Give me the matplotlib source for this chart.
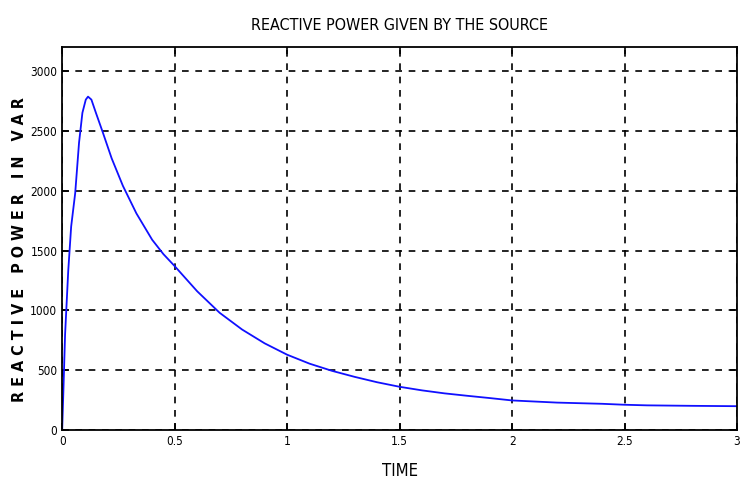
import numpy as np
import matplotlib.pyplot as plt

# values
t = [0, 0.005, 0.013, 0.027, 0.04, 0.058, 0.075, 0.09, 0.105, 0.115, 0.13, 0.15,
     0.18, 0.22, 0.27, 0.33, 0.4, 0.45, 0.5, 0.6, 0.7, 0.8, 0.9, 1.0, 1.1, 1.2, 1.3,
     1.4, 1.5, 1.6, 1.7, 1.8, 1.9, 2.0, 2.2, 2.4, 2.5, 2.6, 2.8, 3.0]
q = [0, 300, 800, 1330, 1700, 1980, 2400, 2650, 2760, 2785, 2760, 2650,
     2490, 2270, 2040, 1810, 1590, 1470, 1370, 1160, 980, 840, 725, 630, 555, 495, 445,
     400, 362, 332, 307, 287, 268, 248, 230, 220, 212, 207, 203, 200]
xticks = [0, 0.5, 1, 1.5, 2, 2.5, 3]
yticks = [0, 500, 1000, 1500, 2000, 2500, 3000]

plt.rcParams['font.family'] = ['DejaVu Sans']
plt.rcParams['font.stretch'] = 'condensed'

fig = plt.figure(figsize=(7.4, 4.79), dpi=100)
ax = fig.add_axes([0.084, 0.102, 0.912, 0.80])
ax.plot(t, q, color="#1010ff", linewidth=1.3)
ax.set_xlim(0, 3)
ax.set_ylim(0, 3200)
ax.set_xticks(xticks)
ax.set_xticklabels(["0", "0.5", "1", "1.5", "2", "2.5", "3"])
ax.set_yticks(yticks)
ax.grid(True, color="black", linestyle=(0, (4, 4)), linewidth=1.2)
ax.tick_params(direction="in", length=5, width=1.2, labelsize=8.5, top=True, right=True)
for s in ax.spines.values():
    s.set_linewidth(1.3)
ax.set_title("REACTIVE POWER GIVEN BY THE SOURCE", fontsize=11.5, pad=12)
ax.set_xlabel("TIME", fontsize=12, labelpad=10)
ax.set_ylabel("R E A C T I V E   P O W E R   I N   V A R", fontsize=11.5,
              fontweight="bold", labelpad=4)
ax.yaxis.set_label_coords(-0.052, 0.47)

fig.savefig("out.png", dpi=100)
